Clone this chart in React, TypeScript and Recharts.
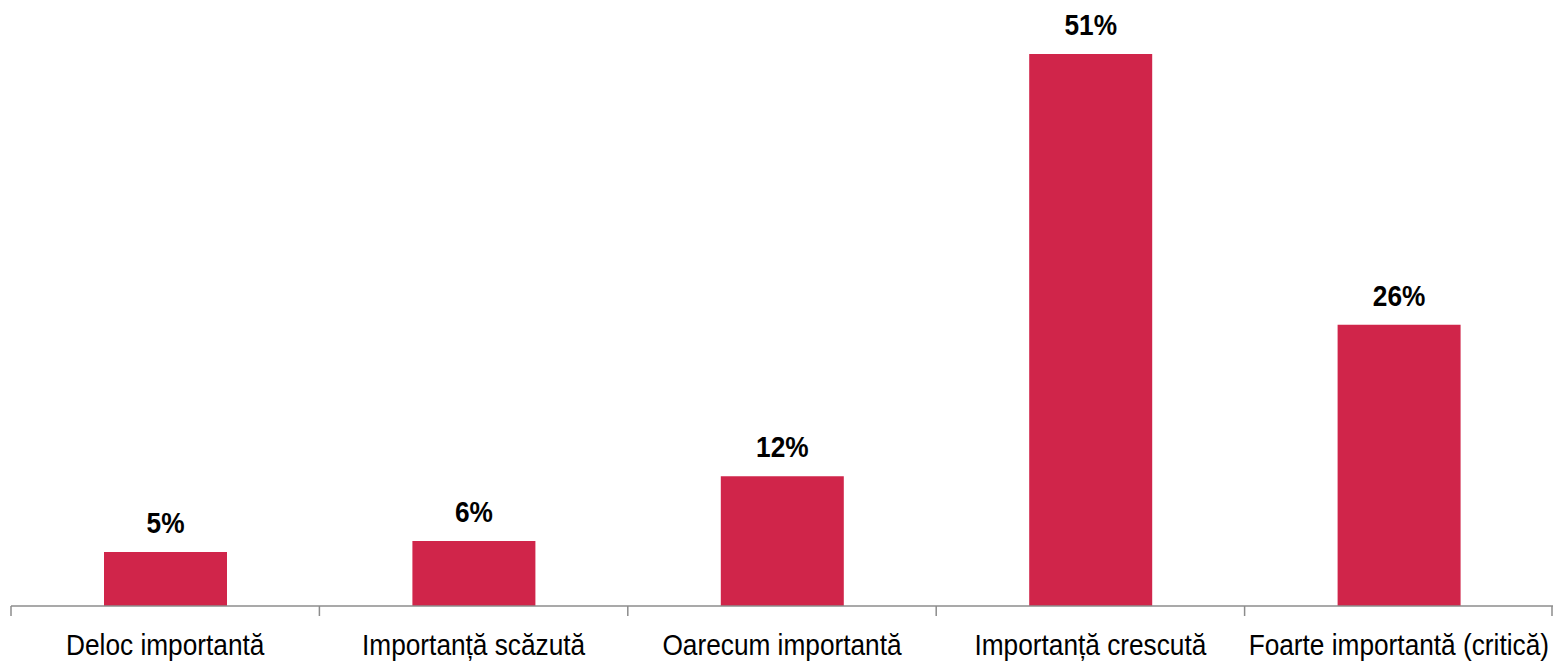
import { BarChart, Bar, XAxis, YAxis, LabelList, Cell } from "recharts";

const categories = [
  "Deloc importantă",
  "Importanță scăzută",
  "Oarecum importantă",
  "Importanță crescută",
  "Foarte importantă (critică)",
];
const shares = [5, 6, 12, 51, 26];

const data = categories.map((name, i) => ({ name, value: shares[i] }));

const WIDTH = 1553;
const HEIGHT = 662;
const LEFT = 11;
const BAND = (WIDTH - LEFT) / categories.length;
// no narrow font available, so squeeze Liberation Sans horizontally
const FONT = '"Liberation Sans", Arial, sans-serif';
const SQUEEZE = 0.875;
const BAR_COLOR = "#d0254a";
const AXIS_COLOR = "#8c8c8c";

function BandTick({ x, y, payload, index }: any) {
  const left = x - BAND / 2;
  const right = x + BAND / 2;
  return (
    <g>
      <line x1={left} y1={y - 10} x2={left} y2={y} stroke={AXIS_COLOR} strokeWidth={1.5} />
      {index === categories.length - 1 && (
        <line x1={right - 1} y1={y - 10} x2={right - 1} y2={y} stroke={AXIS_COLOR} strokeWidth={1.5} />
      )}
      <text
        transform={`translate(${x},${y + 39}) scale(${SQUEEZE},1)`}
        textAnchor="middle"
        fill="#000"
        style={{ fontSize: 30, fontFamily: FONT }}
      >
        {payload.value}
      </text>
    </g>
  );
}

function ValueLabel({ x, y, width, value }: any) {
  const cx = Number(x) + Number(width) / 2;
  return (
    <text
      transform={`translate(${cx},${Number(y) - 19}) scale(${SQUEEZE},1)`}
      textAnchor="middle"
      fill="#000"
      style={{ fontSize: 30, fontWeight: 700, fontFamily: FONT }}
    >
      {`${value}%`}
    </text>
  );
}

export default function App() {
  return (
    <div style={{ position: "absolute", left: 0, top: 0, background: "#fff" }}>
      <BarChart
        width={WIDTH}
        height={HEIGHT}
        data={data}
        margin={{ top: 0, right: 0, bottom: 0, left: LEFT }}
      >
        <XAxis
          dataKey="name"
          height={56}
          interval={0}
          tickLine={false}
          tickSize={10}
          tickMargin={0}
          axisLine={{ stroke: AXIS_COLOR, strokeWidth: 1.5 }}
          tick={<BandTick />}
        />
        <YAxis hide domain={[0, 56]} />
        <Bar dataKey="value" barSize={123} isAnimationActive={false}>
          {data.map((_, i) => (
            <Cell key={i} fill={BAR_COLOR} />
          ))}
          <LabelList dataKey="value" content={<ValueLabel />} />
        </Bar>
      </BarChart>
    </div>
  );
}
